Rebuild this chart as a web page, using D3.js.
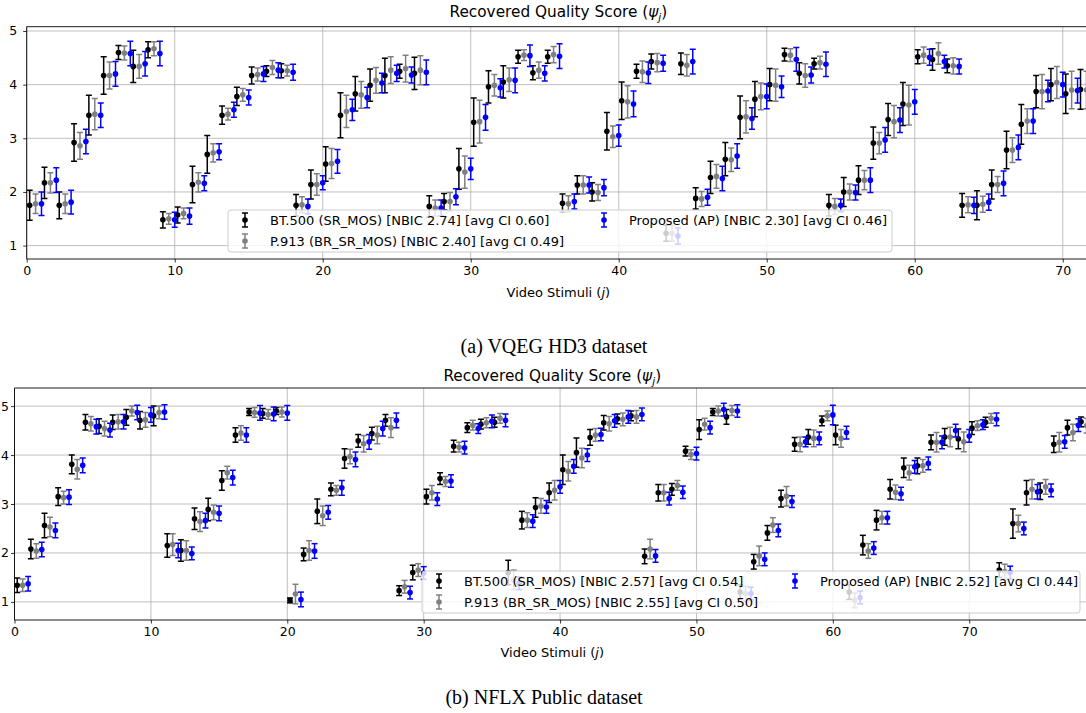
<!DOCTYPE html>
<html>
<head>
<meta charset="utf-8">
<script src="https://cdn.jsdelivr.net/npm/d3@7"></script>
<style>
  body { margin: 0; background: #fff; }
  svg text { font-family: "DejaVu Sans", sans-serif; fill: #000; }
  svg text.caption { font-family: "Liberation Serif", "Times New Roman", serif; }
</style>
</head>
<body>
<svg id="chart" width="1086" height="713"></svg>
<script>
// ---- (a) VQEG HD3: 72 stimuli ----
const a_bt500 = [
  1.75, 2.17, 1.75, 2.92, 3.43, 4.17, 4.60, 4.34, 4.65, 1.48,
  1.57, 2.14, 2.70, 3.43, 3.78, 4.17, 4.25, 4.26, 1.75, 2.14,
  2.52, 3.43, 3.83, 3.99, 4.17, 4.25, 4.21, 1.73, 1.82, 2.43,
  3.30, 3.96, 4.05, 4.52, 4.22, 4.52, 1.79, 2.13, 2.00, 3.13,
  3.70, 4.25, 4.43, 1.23, 4.39, 1.88, 2.27, 2.61, 3.39, 3.73,
  4.00, 4.56, 4.21, 4.39, 1.75, 2.00, 2.22, 2.91, 3.35, 3.64,
  4.52, 4.47, 4.35, 1.75, 1.75, 2.14, 2.78, 3.26, 3.87, 4.00,
  3.83, 3.91];
const a_p913 = [
  1.78, 2.17, 1.78, 2.86, 3.45, 4.17, 4.59, 4.34, 4.67, 1.50,
  1.60, 2.18, 2.73, 3.45, 3.81, 4.19, 4.32, 4.26, 1.76, 2.14,
  2.53, 3.50, 3.81, 4.08, 4.27, 4.30, 4.27, 1.70, 1.82, 2.37,
  3.31, 3.99, 4.09, 4.55, 4.27, 4.56, 1.78, 2.13, 1.99, 3.03,
  3.68, 4.24, 4.41, 1.23, 4.36, 1.87, 2.29, 2.60, 3.40, 3.78,
  3.99, 4.55, 4.17, 4.41, 1.73, 2.00, 2.22, 2.91, 3.31, 3.62,
  4.55, 4.58, 4.35, 1.76, 1.77, 2.14, 2.78, 3.32, 3.87, 4.04,
  3.90, 3.90];
const a_ap = [
  1.78, 2.22, 1.81, 2.94, 3.43, 4.20, 4.58, 4.39, 4.58, 1.48,
  1.55, 2.16, 2.75, 3.53, 3.76, 4.20, 4.27, 4.23, 1.73, 2.17,
  2.57, 3.53, 3.76, 4.03, 4.21, 4.18, 4.23, 1.70, 1.91, 2.43,
  3.39, 3.94, 4.08, 4.54, 4.21, 4.53, 1.82, 2.13, 2.08, 3.05,
  3.64, 4.22, 4.40, 1.18, 4.43, 1.90, 2.25, 2.67, 3.37, 3.78,
  3.96, 4.47, 4.18, 4.38, 1.75, 1.99, 2.22, 2.97, 3.34, 3.68,
  4.51, 4.43, 4.34, 1.75, 1.81, 2.16, 2.83, 3.32, 3.88, 4.00,
  3.89, 3.92];
// half widths of the confidence intervals
const a_bt500_ci = [
  .28, .29, .25, .35, .37, .35, .13, .30, .15, .15,
  .15, .34, .35, .17, .17, .16, .10, .13, .20, .27,
  .32, .42, .32, .30, .32, .13, .30, .20, .15, .38,
  .45, .30, .30, .12, .13, .12, .17, .17, .17, .35,
  .35, .13, .14, .15, .20, .20, .30, .31, .40, .33,
  .30, .12, .20, .10, .20, .27, .27, .30, .30, .40,
  .13, .20, .13, .22, .27, .27, .35, .37, .30, .30,
  .37, .37];
const a_p913_ci = [
  .18, .19, .18, .25, .29, .25, .13, .22, .13, .10,
  .10, .18, .17, .11, .12, .12, .13, .10, .15, .20,
  .28, .30, .25, .24, .25, .25, .27, .15, .17, .30,
  .40, .20, .22, .10, .15, .15, .15, .17, .15, .20,
  .30, .20, .17, .15, .20, .14, .22, .22, .30, .25,
  .30, .12, .22, .12, .15, .15, .18, .20, .30, .37,
  .15, .20, .15, .15, .15, .15, .23, .23, .32, .30,
  .35, .35];
const a_ap_ci = [
  .22, .23, .22, .23, .23, .23, .23, .23, .23, .14,
  .15, .14, .15, .14, .14, .14, .14, .15, .14, .13,
  .22, .20, .19, .18, .15, .15, .23, .15, .15, .20,
  .24, .17, .23, .20, .14, .23, .14, .15, .15, .20,
  .24, .20, .15, .15, .23, .15, .23, .23, .20, .23,
  .20, .22, .15, .23, .12, .14, .23, .23, .23, .23,
  .15, .12, .14, .15, .15, .23, .23, .23, .20, .23,
  .23, .23];
const a_legend = [
  'BT.500 (SR_MOS) [NBIC 2.74] [avg CI 0.60]',
  'P.913 (BR_SR_MOS) [NBIC 2.40] [avg CI 0.49]',
  'Proposed (AP) [NBIC 2.30] [avg CI 0.46]'];

// ---- (b) NFLX Public: 79 stimuli ----
const b_bt500 = [
  1.34, 2.08, 2.56, 3.15, 3.81, 4.67, 4.59, 4.67, 4.77, 4.71,
  4.80, 2.15, 2.05, 2.70, 2.89, 3.48, 4.41, 4.88, 4.85, 4.90,
  1.03, 1.97, 2.85, 3.30, 3.93, 4.29, 4.44, 4.71, 1.23, 1.60,
  3.15, 3.52, 4.18, 4.56, 4.63, 4.67, 1.60, 2.67, 2.93, 3.23,
  3.70, 4.05, 4.36, 4.66, 4.74, 4.80, 1.93, 3.23, 3.30, 4.08,
  4.52, 4.88, 4.78, 1.20, 1.82, 2.41, 3.11, 4.22, 4.37, 4.70,
  4.41, 1.20, 2.16, 2.67, 3.30, 3.74, 3.78, 4.26, 4.37, 4.33,
  4.55, 4.67, 1.65, 2.60, 3.23, 3.26, 4.22, 4.56, 4.68];
const b_p913 = [
  1.34, 2.04, 2.53, 3.13, 3.71, 4.64, 4.54, 4.68, 4.90, 4.72,
  4.87, 2.17, 2.05, 2.64, 2.83, 3.64, 4.45, 4.87, 4.83, 4.88,
  1.16, 2.05, 2.76, 3.28, 3.97, 4.23, 4.41, 4.56, 1.31, 1.65,
  3.23, 3.46, 4.16, 4.61, 4.66, 4.75, 1.45, 2.67, 2.96, 3.28,
  3.67, 3.94, 4.41, 4.64, 4.73, 4.78, 2.08, 3.23, 3.38, 4.01,
  4.63, 4.90, 4.91, 1.17, 1.94, 2.57, 3.16, 4.22, 4.34, 4.80,
  4.34, 1.03, 2.04, 2.72, 3.24, 3.64, 3.78, 4.26, 4.37, 4.27,
  4.60, 4.75, 1.62, 2.60, 3.30, 3.35, 4.26, 4.46, 4.60];
const b_ap = [
  1.37, 2.07, 2.46, 3.14, 3.79, 4.58, 4.51, 4.68, 4.87, 4.82,
  4.88, 2.05, 1.99, 2.66, 2.81, 3.54, 4.41, 4.86, 4.84, 4.86,
  1.05, 2.04, 2.83, 3.33, 3.91, 4.27, 4.54, 4.71, 1.19, 1.59,
  3.10, 3.47, 4.15, 4.54, 4.69, 4.71, 1.38, 2.65, 2.94, 3.35,
  3.77, 4.00, 4.42, 4.70, 4.78, 4.83, 1.94, 3.11, 3.24, 4.03,
  4.56, 4.93, 4.90, 1.17, 1.87, 2.46, 3.05, 4.27, 4.34, 4.82,
  4.46, 1.09, 2.10, 2.72, 3.21, 3.76, 3.83, 4.26, 4.50, 4.39,
  4.62, 4.73, 1.60, 2.50, 3.25, 3.28, 4.27, 4.61, 4.65];
const b_bt500_ci = [
  .15, .20, .25, .18, .19, .16, .15, .15, .16, .18,
  .20, .24, .22, .22, .23, .20, .15, .07, .10, .07,
  .05, .13, .25, .13, .20, .13, .13, .12, .10, .15,
  .15, .12, .12, .10, .10, .10, .25, .18, .20, .20,
  .30, .30, .16, .15, .10, .10, .15, .17, .12, .10,
  .20, .07, .15, .15, .15, .15, .17, .14, .15, .10,
  .20, .15, .20, .20, .20, .20, .16, .15, .17, .20,
  .13, .10, .15, .30, .25, .17, .17, .15, .10];
const b_p913_ci = [
  .13, .15, .20, .13, .20, .15, .15, .15, .10, .15,
  .13, .22, .20, .20, .15, .13, .15, .10, .10, .10,
  .20, .20, .20, .10, .15, .17, .18, .20, .13, .13,
  .15, .10, .10, .10, .10, .10, .20, .15, .15, .20,
  .20, .20, .13, .15, .13, .13, .20, .17, .10, .10,
  .12, .10, .10, .15, .20, .15, .20, .15, .17, .10,
  .18, .15, .15, .13, .15, .15, .13, .20, .20, .20,
  .10, .10, .15, .17, .20, .15, .20, .17, .15];
const b_ap_ci = [
  .15, .15, .15, .15, .15, .15, .14, .15, .15, .15,
  .15, .15, .13, .15, .15, .15, .15, .15, .14, .15,
  .15, .15, .14, .15, .15, .15, .15, .15, .13, .13,
  .13, .13, .13, .10, .13, .13, .13, .13, .13, .13,
  .14, .13, .13, .13, .13, .13, .13, .13, .13, .13,
  .13, .13, .13, .13, .13, .13, .12, .10, .13, .20,
  .13, .13, .13, .13, .13, .13, .13, .13, .13, .13,
  .10, .13, .13, .13, .15, .13, .13, .13, .13];
const b_legend = [
  'BT.500 (SR_MOS) [NBIC 2.57] [avg CI 0.54]',
  'P.913 (BR_SR_MOS) [NBIC 2.55] [avg CI 0.50]',
  'Proposed (AP) [NBIC 2.52] [avg CI 0.44]'];

const xTicks = [0, 10, 20, 30, 40, 50, 60, 70];
const yTicks = [1, 2, 3, 4, 5];
const colors = ['#000000', '#808080', '#0000ff'];
const offsets = [0.2, 0.6, 1.0];   // black / gray / blue shift of each stimulus

const svg = d3.select('#chart');

function drawPanel(p) {
    const g = svg.append('g');
    const x = d3.scaleLinear().domain(p.xDomain).range([p.left, p.right]);
    const y = d3.scaleLinear().domain(p.yDomain).range([p.bottom, p.top]);

    svg.append('clipPath').attr('id', 'clip-' + p.id)
        .append('rect')
        .attr('x', p.left).attr('y', p.top)
        .attr('width', p.right - p.left).attr('height', p.bottom - p.top);

    // grid
    g.append('g').selectAll('line').data(xTicks).join('line')
        .attr('x1', d => x(d)).attr('x2', d => x(d))
        .attr('y1', p.top).attr('y2', p.bottom)
        .attr('stroke', '#b0b0b0').attr('stroke-width', 0.8);
    g.append('g').selectAll('line').data(yTicks).join('line')
        .attr('x1', p.left).attr('x2', p.right)
        .attr('y1', d => y(d)).attr('y2', d => y(d))
        .attr('stroke', '#b0b0b0').attr('stroke-width', 0.8);

    // axes
    const xAxis = g.append('g').attr('transform', `translate(0,${p.bottom})`)
        .call(d3.axisBottom(x).tickValues(xTicks).tickFormat(d3.format('d'))
            .tickSize(3.5).tickPadding(4).tickSizeOuter(0));
    const yAxis = g.append('g').attr('transform', `translate(${p.left},0)`)
        .call(d3.axisLeft(y).tickValues(yTicks).tickFormat(d3.format('d'))
            .tickSize(3.5).tickPadding(p.yPad).tickSizeOuter(0));
    [xAxis, yAxis].forEach(ax => {
        ax.attr('font-family', null).attr('font-size', 12.5);
        ax.select('.domain').remove();
        ax.selectAll('line').attr('stroke', '#000').attr('stroke-width', 0.8);
    });

    // spines
    g.append('path')
        .attr('d', `M${p.right},${p.top}H${p.left}V${p.bottom}H${p.right}`)
        .attr('fill', 'none').attr('stroke', '#000').attr('stroke-width', 0.9);

    // error bars, one group per method
    p.series.forEach((s, k) => {
        const pts = s.values.map((v, j) => ({ xv: j + offsets[k], v: v, ci: s.ci[j] }));
        const sg = g.append('g').attr('clip-path', `url(#clip-${p.id})`)
            .attr('stroke', colors[k]).attr('fill', colors[k]);
        sg.selectAll('.bar').data(pts).join('line').attr('class', 'bar')
            .attr('x1', d => x(d.xv)).attr('x2', d => x(d.xv))
            .attr('y1', d => y(d.v - d.ci)).attr('y2', d => y(d.v + d.ci))
            .attr('stroke-width', 1.5);
        sg.selectAll('.cap').data(pts.flatMap(d => [[d.xv, d.v - d.ci], [d.xv, d.v + d.ci]]))
            .join('line').attr('class', 'cap')
            .attr('x1', d => x(d[0]) - 3).attr('x2', d => x(d[0]) + 3)
            .attr('y1', d => y(d[1])).attr('y2', d => y(d[1]))
            .attr('stroke-width', 1.5);
        sg.selectAll('circle').data(pts).join('circle')
            .attr('cx', d => x(d.xv)).attr('cy', d => y(d.v))
            .attr('r', 2.8).attr('stroke', 'none');
    });

    // legend (semi transparent like matplotlib)
    const L = p.legend;
    const lg = g.append('g');
    lg.append('rect')
        .attr('x', L.x).attr('y', L.y).attr('width', L.w).attr('height', L.h)
        .attr('rx', 3).attr('fill', '#fff').attr('fill-opacity', 0.8)
        .attr('stroke', '#cccccc').attr('stroke-width', 1);
    const entries = p.labels.map((t, i) => ({
        t: t, k: i,
        mx: i < 2 ? L.x + 17 : L.col2,
        my: L.y + 10 + (i < 2 ? i : 0) * 21
    }));
    const item = lg.selectAll('.item').data(entries).join('g').attr('class', 'item')
        .attr('transform', d => `translate(${d.mx},${d.my})`);
    item.append('line').attr('y1', -7).attr('y2', 7)
        .attr('stroke', d => colors[d.k]).attr('stroke-width', 1.5);
    item.append('line').attr('x1', -3).attr('x2', 3).attr('y1', -7).attr('y2', -7)
        .attr('stroke', d => colors[d.k]).attr('stroke-width', 1.5);
    item.append('line').attr('x1', -3).attr('x2', 3).attr('y1', 7).attr('y2', 7)
        .attr('stroke', d => colors[d.k]).attr('stroke-width', 1.5);
    item.append('circle').attr('r', 2.8).attr('fill', d => colors[d.k]);
    item.append('text').attr('x', 25).attr('dy', '0.35em')
        .attr('font-size', 13).text(d => d.t);

    const cx = (p.left + p.right) / 2 + 2;

    // title
    const title = svg.append('text').attr('x', cx).attr('y', p.titleY)
        .attr('text-anchor', 'middle').attr('font-size', 15.3);
    title.append('tspan').text('Recovered Quality Score (');
    title.append('tspan').attr('font-style', 'italic').text('ψ');
    title.append('tspan').attr('font-style', 'italic').attr('font-size', 10.5).attr('dy', 3.5).text('j');
    title.append('tspan').attr('dy', -3.5).text(')');

    // x label
    const xl = svg.append('text').attr('x', cx).attr('y', p.xLabelY)
        .attr('text-anchor', 'middle').attr('font-size', 13);
    xl.append('tspan').text('Video Stimuli (');
    xl.append('tspan').attr('font-style', 'italic').text('j');
    xl.append('tspan').text(')');

    svg.append('text').attr('class', 'caption')
        .attr('x', p.captionX).attr('y', p.captionY)
        .attr('text-anchor', 'middle').attr('font-size', 20)
        .text(p.caption);
}

drawPanel({
    id: 'a', left: 26.7, right: 1086, top: 26.7, bottom: 259,
    xDomain: [0, 71.57], yDomain: [0.75, 5.08], yPad: 6,
    series: [
        { values: a_bt500, ci: a_bt500_ci },
        { values: a_p913, ci: a_p913_ci },
        { values: a_ap, ci: a_ap_ci }],
    labels: a_legend,
    legend: { x: 228, y: 210, w: 664, h: 42, col2: 604 },
    titleY: 17, xLabelY: 297, captionX: 554, captionY: 353,
    caption: '(a) VQEG HD3 dataset'
});

drawPanel({
    id: 'b', left: 14.5, right: 1086, top: 388, bottom: 620,
    xDomain: [0, 78.56], yDomain: [0.63, 5.37], yPad: 2,
    series: [
        { values: b_bt500, ci: b_bt500_ci },
        { values: b_p913, ci: b_p913_ci },
        { values: b_ap, ci: b_ap_ci }],
    labels: b_legend,
    legend: { x: 422, y: 571, w: 658, h: 42, col2: 795 },
    titleY: 381, xLabelY: 657, captionX: 544, captionY: 704,
    caption: '(b) NFLX Public dataset'
});
</script>
</body>
</html>
